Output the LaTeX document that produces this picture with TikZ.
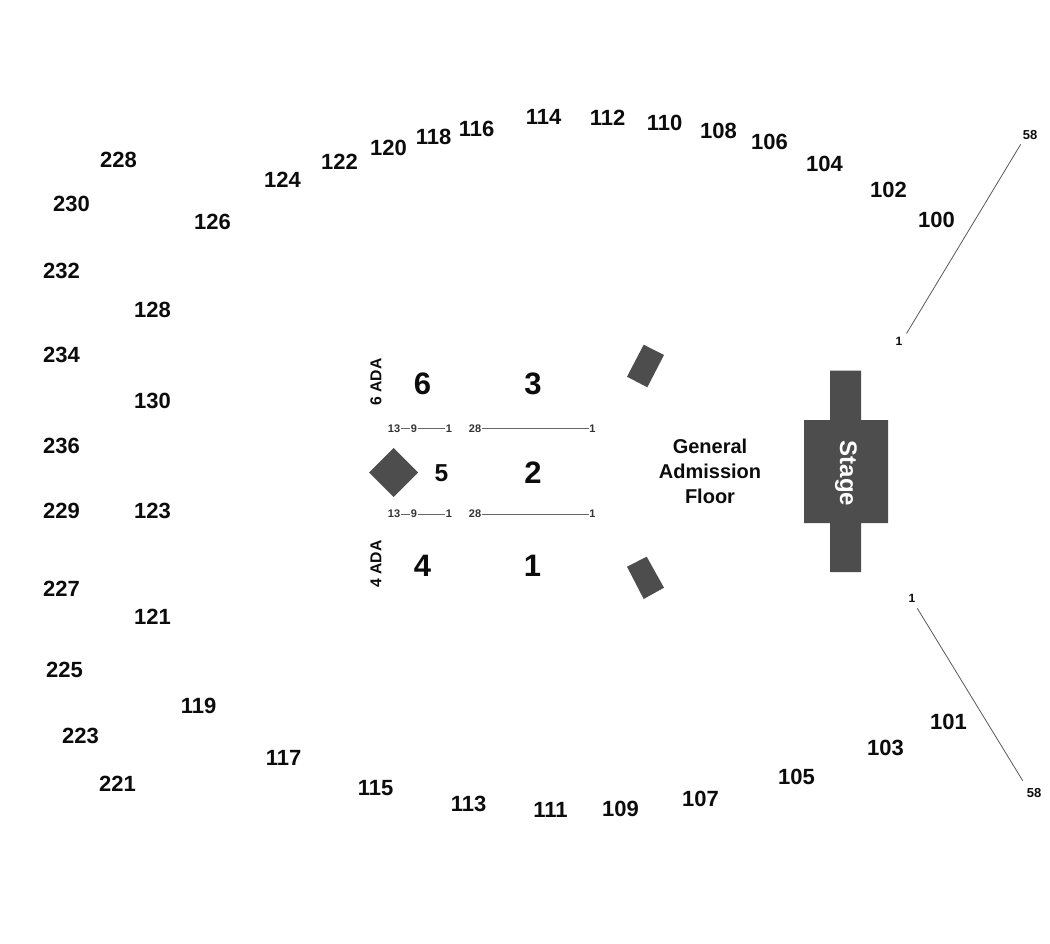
\documentclass[tikz,border=0pt]{standalone}
\usepackage{fontspec}
\setmainfont{Liberation Sans}
\definecolor{shape}{HTML}{4D4D4D}
\definecolor{txt}{HTML}{0C0C0C}
\tikzset{
  x=1pt,y=-1pt,
  every node/.style={inner sep=0.5pt,outer sep=0pt,text=txt},
  sec/.style={font=\bfseries\fontsize{22}{24}\selectfont},
  big/.style={font=\bfseries\fontsize{31}{33}\selectfont},
  mid/.style={font=\bfseries\fontsize{24.5}{26}\selectfont},
  seat/.style={font=\bfseries\fontsize{11}{12}\selectfont,text=black!80},
  rowend/.style={font=\bfseries\fontsize{13}{14}\selectfont},
  ada/.style={font=\bfseries\fontsize{15.7}{17}\selectfont,rotate=90},
  ga/.style={font=\bfseries\fontsize{20}{25}\selectfont,align=center},
  solid shape/.style={fill=shape,draw=none},
  thinline/.style={draw=black!60,line width=0.8pt},
  outline/.style={draw=black!65,line width=0.8pt},
}
\begin{document}
\begin{tikzpicture}
\useasboundingbox (0,0) rectangle (1050,944);
\fill[white] (0,0) rectangle (1050,944);
% sections
\foreach \n/\x/\y in {100/936.5/220,102/888.5/190,104/824.5/164,106/769.5/142,108/718.5/131,110/664.5/123,112/607.5/118,114/543.5/117,116/476.5/129,118/433.5/137,120/388.5/148,122/339.5/162,124/282.5/180,126/212.5/222,128/152.5/310,130/152.5/401,228/118.5/160,230/71.5/204,232/61.5/271,234/61.5/355,236/61.5/446,229/61.5/511,123/152.5/511,227/61.5/589,121/152.5/617,225/64.5/670,119/198.5/706,223/80.5/736,221/117.5/784,117/283.5/758,115/375.5/788,113/468.5/804,111/550.5/810,109/620.5/809,107/700.5/799,105/796.5/777,103/885.5/748,101/948.5/722}
  \node[sec] (s\n) at (\x,\y) {\n};
% floor sections
\node[big] (f6) at (422.5,384) {6};
\node[big] (f3) at (533,384) {3};
\node[big] (f2) at (533,473) {2};
\node[big] (f4) at (422.5,566) {4};
\node[big] (f1) at (532.5,566) {1};
\node[mid] (f5) at (441.5,473) {5};
\node[ada] (a6) at (376,382) {6 ADA};
\node[ada] (a4) at (376,564) {4 ADA};
% seat rows
\foreach \r/\y in {u/428.5,l/514}{
  \node[seat] (\r a) at (394,\y) {13};
  \node[seat] (\r b) at (414,\y) {9};
  \node[seat] (\r c) at (449,\y) {1};
  \node[seat] (\r d) at (475,\y) {28};
  \node[seat] (\r e) at (592.5,\y) {1};
  \draw[thinline] (\r a) -- (\r b);
  \draw[thinline] (\r b) -- (\r c);
  \draw[thinline] (\r d) -- (\r e);
}
% shapes
\fill[solid shape] (369,472.5) -- (393.5,448) -- (418,472.5) -- (393.5,497) -- cycle;
\fill[solid shape] (643.7,344.7) -- (664,355) -- (647.3,387.3) -- (627,376.7) -- cycle;
\fill[solid shape] (646.7,556.7) -- (664,587.7) -- (643.7,599) -- (627,566.7) -- cycle;
\fill[solid shape] (830,370.5) -- (861,370.5) -- (861,420) -- (888,420) -- (888,523) -- (861,523) -- (861,572) -- (830,572) -- (830,523) -- (804,523) -- (804,420) -- (830,420) -- cycle;
\node[font=\bfseries\fontsize{24}{26}\selectfont,rotate=-90,text=white] (stage) at (846,473.5) {Stage};
\node[ga] (ga) at (710,471) {General\\Admission\\Floor};
% end rows
\node[rowend,font=\bfseries\fontsize{12}{13}\selectfont,minimum size=15pt] (t1) at (899,341) {1};
\node[rowend,minimum size=18.6pt] (t58) at (1030,135) {58};
\node[rowend,font=\bfseries\fontsize{12}{13}\selectfont,minimum width=10.6pt,minimum height=20.6pt] (b1) at (912,598) {1};
\node[rowend,minimum width=22.6pt,minimum height=24.6pt] (b58) at (1034,793) {58};
\draw[outline] (t1.north east) -- (t58.south west);
\draw[outline] (b1.south east) -- (b58.north west);
\end{tikzpicture}
\end{document}
